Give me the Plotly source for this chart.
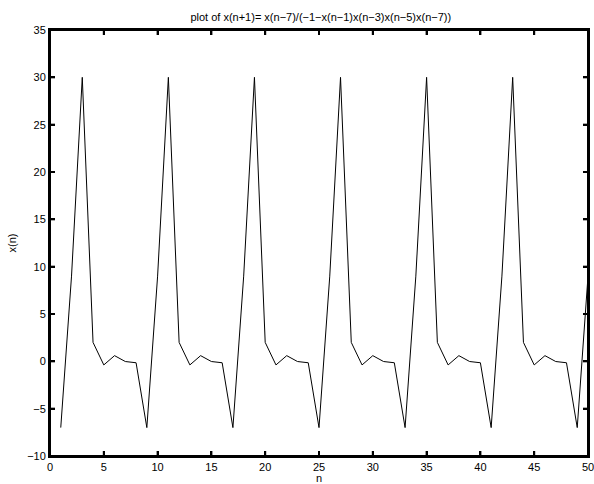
import plotly.graph_objects as go

# one period of the sequence (period 8)
period_vals = [-7, 9, 30, 2, -0.38, 0.6, -0.02, -0.15]
n_vals = list(range(1, 51))
x_vals = [period_vals[(n - 1) % 8] for n in n_vals]

x_ticks = [0, 5, 10, 15, 20, 25, 30, 35, 40, 45, 50]
y_ticks = [-10, -5, 0, 5, 10, 15, 20, 25, 30, 35]

FONT = "Liberation Sans, Arial, sans-serif"
W, H = 594, 484
ML, MR, MT, MB = 50, 6, 30, 28
PW, PH = W - ML - MR, H - MT - MB
XR, YR = (0, 50), (-10, 35)

fig = go.Figure()
fig.add_trace(go.Scatter(x=n_vals, y=x_vals, mode="lines",
                         line=dict(color="black", width=1), showlegend=False))

axis_common = dict(
    showgrid=False, zeroline=False, showline=True, linecolor="#000000", linewidth=2,
    mirror="ticks", ticks="inside", ticklen=5, tickwidth=2, tickcolor="#000000",
    automargin=False, layer="above traces", ticklabeloverflow="allow",
    tickfont=dict(family=FONT, size=11, color="black"),
)
fig.update_xaxes(range=list(XR), tickvals=x_ticks, **axis_common,
                 title=dict(text="n", standoff=2,
                            font=dict(family=FONT, size=11, color="black")))
fig.update_yaxes(range=list(YR), tickvals=y_ticks, **axis_common,
                 title=dict(text="x(n)", standoff=8,
                            font=dict(family=FONT, size=11, color="black")))

# frame and inward tick marks as thin filled rectangles
BLK = dict(fillcolor="black", line=dict(width=0), layer="above", type="rect")
px_x, px_y = 1.0 / PW, 1.0 / PH            # one pixel in paper units
dx = (XR[1] - XR[0]) / PW                  # one pixel in x data units
dy = (YR[1] - YR[0]) / PH                  # one pixel in y data units
TL = 5
shapes = []
for a in (0.0, 1.0):
    shapes.append(dict(xref="paper", yref="paper", x0=a - px_x, x1=a + px_x,
                       y0=-px_y, y1=1 + px_y, **BLK))
    shapes.append(dict(xref="paper", yref="paper", y0=a - px_y, y1=a + px_y,
                       x0=-px_x, x1=1 + px_x, **BLK))
for t in x_ticks:
    shapes.append(dict(xref="x", yref="paper", x0=t - dx, x1=t + dx,
                       y0=0, y1=TL * px_y, **BLK))
    shapes.append(dict(xref="x", yref="paper", x0=t - dx, x1=t + dx,
                       y0=1 - TL * px_y, y1=1, **BLK))
for t in y_ticks:
    shapes.append(dict(xref="paper", yref="y", y0=t - dy, y1=t + dy,
                       x0=0, x1=TL * px_x, **BLK))
    shapes.append(dict(xref="paper", yref="y", y0=t - dy, y1=t + dy,
                       x0=1 - TL * px_x, x1=1, **BLK))

fig.update_layout(
    width=W, height=H,
    margin=dict(l=ML, r=MR, t=MT, b=MB, autoexpand=False),
    plot_bgcolor="white", paper_bgcolor="white",
    shapes=shapes,
    title=dict(text="plot of x(n+1)= x(n\u22127)/(\u22121\u2212x(n\u22121)x(n\u22123)x(n\u22125)x(n\u22127))",
               x=0.54, xanchor="center", y=1 - 17 / H, yref="container", yanchor="middle",
               font=dict(family=FONT, size=11, color="black")),
)

fix_js = """
document.body.style.margin='0';
document.body.style.overflow='hidden';
"""
fig.write_html("out.html", config={"displayModeBar": False}, post_script=fix_js)
